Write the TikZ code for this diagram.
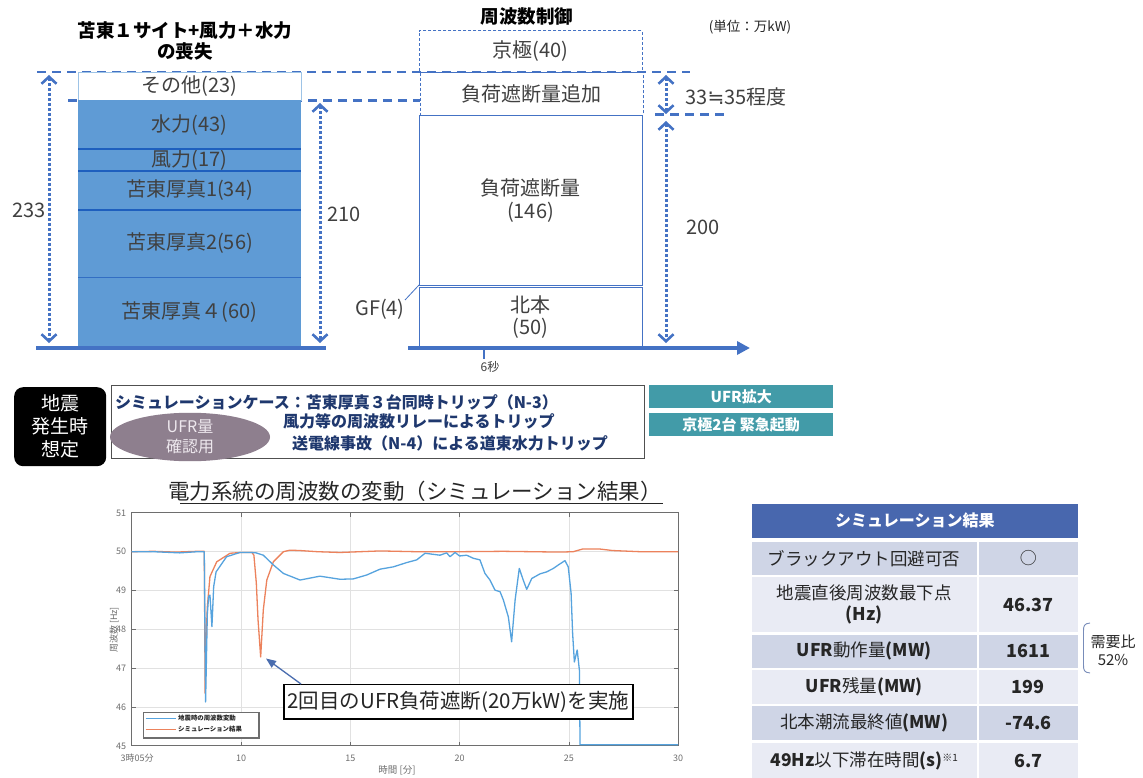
\documentclass[tikz,border=0pt]{standalone}
\usepackage{fontspec}
\setmainfont{Noto Sans CJK JP}
\newfontfamily\symfont{DejaVu Sans}
\usetikzlibrary{arrows.meta,shapes.geometric}
\definecolor{dblue}{RGB}{68,114,196}
\definecolor{stackblue}{RGB}{95,155,213}
\definecolor{divblue}{RGB}{30,95,190}
\definecolor{div2}{RGB}{50,110,195}
\definecolor{lightb}{RGB}{157,195,230}
\definecolor{txt}{RGB}{64,64,64}
\definecolor{dark}{RGB}{38,38,38}
\definecolor{boxgray}{RGB}{80,80,80}
\definecolor{navy}{RGB}{31,56,110}
\definecolor{tealbox}{RGB}{66,155,168}
\definecolor{ellip}{RGB}{142,127,142}
\definecolor{ellipt}{RGB}{238,232,238}
\definecolor{thead}{RGB}{72,103,174}
\definecolor{rowd}{RGB}{207,213,230}
\definecolor{rowl}{RGB}{233,235,244}
\definecolor{cblue}{RGB}{86,163,222}
\definecolor{corange}{RGB}{236,130,92}
\definecolor{gridc}{RGB}{225,225,225}
\definecolor{framec}{RGB}{110,110,110}
\definecolor{arrc}{RGB}{74,109,175}
\definecolor{brk}{RGB}{120,140,185}
\newcommand{\fsz}[2]{\fontsize{#1}{#2}\selectfont}
\tikzset{
  dashln/.style={draw=dblue, line width=2.3pt, dash pattern=on 9pt off 6pt},
  thindash/.style={draw=dblue, line width=0.9pt, dash pattern=on 3pt off 2pt},
  dotarr/.style={draw=dblue, line width=3pt, dash pattern=on 2.5pt off 2.5pt,
     {Straight Barb[length=7pt,width=15pt,line width=2.6pt]}-{Straight Barb[length=7pt,width=15pt,line width=2.6pt]}},
  cell/.style={rectangle, anchor=north west, inner sep=0pt, outer sep=0pt, minimum width=223pt, fill=stackblue, text=txt, font=\fsz{20}{24}},
  mbox/.style={rectangle, anchor=north west, inner sep=0pt, outer sep=0pt, minimum width=223pt, text=txt, font=\fsz{20}{22}, align=center},
  lbl/.style={text=txt, font=\fsz{20}{24}, inner sep=0pt},
  navyt/.style={text=navy, font=\bfseries\fsz{16}{19}, anchor=west, inner sep=0pt},
  tealb/.style={rectangle, fill=tealbox, minimum width=184pt, minimum height=23pt, anchor=north west, inner sep=0pt, text=white, font=\bfseries\fsz{15}{18}},
  tl/.style={rectangle, anchor=north west, inner sep=0pt, minimum width=224.6pt, text=dark, font=\fsz{17.5}{21}, align=center},
  tv/.style={rectangle, anchor=north west, inner sep=0pt, minimum width=99.2pt, text=dark, font=\bfseries\fsz{18}{21}},
  grid/.style={draw=gridc, line width=0.8pt},
  tick/.style={text=framec, font=\fsz{9}{10}, inner sep=0pt},
}
\begin{document}
\begin{tikzpicture}[x=1pt,y=-1pt]
\useasboundingbox (0,0) rectangle (1143,778);
\fill[white] (0,0) rectangle (1143,778);

% ---------- top-left stack ----------
\node[font=\bfseries\fsz{18.5}{21}, text=black, align=center] (ttl1) at (185,41) {苫東１サイト+風力＋水力\\の喪失};
\draw[dashln] (37,72) -- (690,72);
\draw[dashln] (68,100.5) -- (420,100.5);
\node[cell, fill=white, draw=lightb, line width=0.8pt, minimum height=28.5pt] (sonota) at (78,72) {その他(23)};
\node[cell, minimum height=48.5pt] (sui) at (78,100.5) {水力(43)};
\node[cell, minimum height=22pt] (fu) at (78,149) {風力(17)};
\node[cell, minimum height=39pt] (t1) at (78,171) {苫東厚真1(34)};
\node[cell, minimum height=67pt] (t2) at (78,210) {苫東厚真2(56)};
\node[cell, minimum height=69.5pt] (t4) at (78,277) {苫東厚真４(60)};
\draw[divblue, line width=2pt] (sui.south west) -- (sui.south east);
\draw[divblue, line width=2pt] (fu.south west) -- (fu.south east);
\draw[divblue, line width=2pt] (t1.south west) -- (t1.south east);
\draw[div2, line width=1pt] (t2.south west) -- (t2.south east);
\draw[dblue, line width=4pt] (36,347.5) -- (326,347.5);
\coordinate (a233t) at (49,75);
\coordinate (a233b) at (49,343);
\draw[dotarr] (a233t) -- (a233b);
\node[lbl] (n233) at (29,210) {233};
\coordinate (a210t) at (320,103);
\coordinate (a210b) at (320,343);
\draw[dotarr] (a210t) -- (a210b);
\node[lbl] (n210) at (344,214) {210};

% ---------- middle column ----------
\node[font=\bfseries\fsz{18.5}{21}, text=black] (ttl2) at (527,17) {周波数制御};
\node[font=\fsz{13.5}{16}, text=dark] (unit) at (750,27) {(単位：万kW)};
\node[mbox, thindash, minimum height=41.3pt] (kyo) at (419,30.7) {京極(40)};
\node[mbox, thindash, minimum height=43.3pt] (add) at (420,72) {負荷遮断量追加};
\node[mbox, draw=dblue, line width=1pt, minimum height=169.7pt] (shed) at (419,115.3) {負荷遮断量\\[1pt](146)};
\node[mbox, draw=dblue, line width=1pt, minimum height=59.5pt] (hok) at (419,287.5) {北本\\(50)};
\draw[dashln] (655,114.5) -- (725,114.5);
\node[lbl] (gf) at (380,309) {GF(4)};
\coordinate (gfend) at (405,300);
\draw[dblue, line width=0.8pt] (gfend) -- (shed.south west);
\coordinate (axs) at (408,348);
\coordinate (axe) at (750,348);
\draw[dblue, line width=4pt, -{Triangle[length=13pt,width=13pt]}] (axs) -- (axe);
\coordinate (tk) at (484,348);
\coordinate (tkb) at (484,359);
\draw[dblue, line width=1.5pt] (tk) -- (tkb);
\node[text=txt, font=\fsz{12}{14}, inner sep=0pt] (six) at (490,367) {6秒};
\coordinate (u1) at (666,75);
\coordinate (u2) at (666,114);
\coordinate (u3) at (666,121);
\coordinate (u4) at (666,343);
\draw[dotarr] (u1) -- (u2);
\draw[dotarr] (u3) -- (u4);
\node[lbl] (n33) at (736,97) {33{\symfont ≒}35程度};
\node[lbl] (n200) at (703,227) {200};

% ---------- scenario row ----------
\node[rectangle, rounded corners=9pt, fill=black, text=white, minimum width=92pt, minimum height=79pt, anchor=north west, inner sep=0pt, align=center, font=\fsz{19}{23}] (quake) at (14,387) {地震\\発生時\\想定};
\node[rectangle, draw=boxgray, line width=1.2pt, minimum width=533pt, minimum height=73pt, anchor=north west, inner sep=0pt] (case) at (111,385) {};
\node[ellipse, fill=ellip, minimum width=160pt, minimum height=44pt, inner sep=0pt, align=center, text=ellipt, font=\fsz{16}{20}] (ufr) at (190,437) {UFR量\\確認用};
\node[navyt] (l1) at (115,402) {シミュレーションケース：苫東厚真３台同時トリップ（N-3）};
\node[navyt] (l2) at (283,421) {風力等の周波数リレーによるトリップ};
\node[navyt] (l3) at (292,443) {送電線事故（N-4）による道東水力トリップ};
\node[tealb] (ufrx) at (649,385) {UFR拡大};
\node[tealb] (kyo2) at (649,413) {京極2台 緊急起動};

% ---------- chart ----------
\node[text=dark, font=\fsz{21.5}{24}, inner sep=0pt] (ctitle) at (415,491) {電力系統の周波数の変動（シミュレーション結果）};
\draw[dark, line width=1.5pt] (180,503.5) -- (663,503.5);
\begin{scope}[shift={(22.4,2493.2)}, x=21.86pt, y=38.83pt]
  \foreach \t in {10,15,20,25} \draw[grid] (\t,45) -- (\t,51);
  \foreach \f in {46,47,48,49,50} \draw[grid] (5,\f) -- (30,\f);
  \draw[framec, line width=1.1pt] (5,45) rectangle (30,51);
  \foreach \t in {10,15,20,25} {\draw[framec, line width=0.8pt] (\t,45) -- ++(0,0.1); \draw[framec, line width=0.8pt] (\t,51) -- ++(0,-0.1);}
  \foreach \f in {46,47,48,49,50} {\draw[framec, line width=0.8pt] (5,\f) -- ++(0.18,0); \draw[framec, line width=0.8pt] (30,\f) -- ++(-0.18,0);}
  \foreach \f in {45,46,47,48,49,50,51} \node[tick, anchor=east] (yt\f) at (4.75,\f) {\f};
  \node[tick] (xt5) at (5.25,44.68) {3時05分};
  \foreach \t in {10,15,20,25,30} \node[tick] (xt\t) at (\t,44.68) {\t};
  \draw[corange, line width=1.3pt, line join=round] plot coordinates {
    (5,50.0) (6,50.01) (7,49.99) (8,50.01) (8.32,50.01) (8.36,46.35) (8.42,48.0) (8.46,48.58) (8.58,49.36)
    (8.89,49.74) (9.5,49.96) (10.0,49.98) (10.5,49.98) (10.59,49.91) (10.7,49.2) (10.78,48.24) (10.9,47.29)
    (11.02,48.5) (11.18,49.27) (11.48,49.74) (11.94,50.0) (12.24,50.04) (12.7,50.03) (13.5,50.0) (14.53,49.98)
    (16.36,50.02) (18,50.0) (20,50.0) (22,50.01) (24.6,49.99) (25.2,50.0) (25.63,50.07) (26.4,50.07)
    (27.0,50.03) (28.26,50.0) (30,50.0)};
  \draw[cblue, line width=1.3pt, line join=round] plot coordinates {
    (5,50.0) (6,50.0) (7.2,49.97) (8.0,50.0) (8.32,50.0) (8.38,46.13) (8.46,48.4) (8.52,48.85) (8.58,48.88) (8.67,48.07)
    (8.75,49.1) (8.86,49.48) (9.34,49.87) (9.95,49.98) (10.45,49.98) (10.69,49.97) (11.02,49.91) (11.48,49.66)
    (11.94,49.44) (12.39,49.34) (12.7,49.27) (13.61,49.37) (14.53,49.29) (15.14,49.30) (15.75,49.40) (16.36,49.55)
    (16.97,49.61) (17.58,49.72) (18.04,49.79) (18.42,49.96) (19.10,49.91) (19.41,49.97) (19.56,49.87) (19.79,49.98)
    (20.0,49.89) (20.32,49.91) (20.63,49.83) (20.93,49.79) (21.16,49.44) (21.39,49.27) (21.62,49.01) (21.85,48.97)
    (22.0,48.76) (22.23,48.32) (22.38,47.68) (22.54,48.76) (22.73,49.57) (22.91,49.27) (23.07,49.03) (23.30,49.31)
    (23.68,49.43) (23.98,49.48) (24.29,49.57) (24.52,49.66) (24.82,49.77) (24.97,49.61) (25.10,48.93) (25.17,47.90)
    (25.25,47.16) (25.38,47.47) (25.48,46.95) (25.51,45.03) (30,45.03)};
\end{scope}
\node[text=framec, font=\fsz{9}{10}, rotate=90, inner sep=0pt] (ylab) at (114,630) {周波数 [Hz]};
\node[text=framec, font=\fsz{9.5}{11}, inner sep=0pt] (xlab) at (397,770) {時間 [分]};
\node[rectangle, draw=framec, line width=1.2pt, fill=white, minimum width=115.6pt, minimum height=25.6pt, anchor=north west, inner sep=0pt] (leg) at (142.7,711.7) {};
\coordinate (lb1) at (145.5,718.5);
\coordinate (lb2) at (176,718.5);
\coordinate (lo1) at (145.5,729.5);
\coordinate (lo2) at (176,729.5);
\draw[cblue, line width=1.3pt] (lb1) -- (lb2);
\draw[corange, line width=1.3pt] (lo1) -- (lo2);
\node[anchor=west, inner sep=0pt, text=dark, font=\bfseries\fsz{6.4}{7}] (leg1) at (178,718.5) {地震時の周波数変動};
\node[anchor=west, inner sep=0pt, text=dark, font=\bfseries\fsz{6.4}{7}] (leg2) at (178,729.5) {シミュレーション結果};
\node[rectangle, draw=black, line width=1.2pt, fill=white, minimum width=349pt, minimum height=34.3pt, anchor=north west, inner sep=0pt, text=dark, font=\fsz{20.5}{23}] (annot) at (283.3,684) {2回目のUFR負荷遮断(20万kW)を実施};
\coordinate (atip) at (266,658.5);
\coordinate (abase) at (301,684);
\draw[arrc, line width=1.3pt, -{Triangle[length=10pt,width=8pt]}] (abase) -- (atip);

% ---------- table ----------
\node[rectangle, fill=thead, minimum width=326pt, minimum height=34.4pt, anchor=north west, inner sep=0pt, text=white, font=\bfseries\fsz{16}{19}] (th) at (751.7,503.3) {シミュレーション結果};
\node[tl, fill=rowd, minimum height=33pt] (r1l) at (751.7,541.7) {ブラックアウト回避可否};
\node[tv, fill=rowd, minimum height=33pt, font=\fsz{17}{20}] (r1v) at (978.5,541.7) {○};
\node[tl, fill=rowl, minimum height=55pt] (r2l) at (751.7,577) {地震直後周波数最下点\\\textbf{(Hz)}};
\node[tv, fill=rowl, minimum height=55pt] (r2v) at (978.5,577) {46.37};
\node[tl, fill=rowd, minimum height=33.5pt] (r3l) at (751.7,634.3) {\textbf{UFR}動作量\textbf{(MW)}};
\node[tv, fill=rowd, minimum height=33.5pt] (r3v) at (978.5,634.3) {1611};
\node[tl, fill=rowl, minimum height=33.5pt] (r4l) at (751.7,670.2) {\textbf{UFR}残量\textbf{(MW)}};
\node[tv, fill=rowl, minimum height=33.5pt] (r4v) at (978.5,670.2) {199};
\node[tl, fill=rowd, minimum height=34pt] (r5l) at (751.7,706) {北本潮流最終値\textbf{(MW)}};
\node[tv, fill=rowd, minimum height=34pt] (r5v) at (978.5,706) {-74.6};
\node[tl, fill=rowl, minimum height=36pt] (r6l) at (751.7,742.3) {\textbf{49Hz}以下滞在時間\textbf{(s)}\raisebox{5pt}{\fsz{10}{11}※1}};
\node[tv, fill=rowl, minimum height=36pt] (r6v) at (978.5,742.3) {6.7};
\draw[brk, line width=0.9pt] (1090,623) .. controls (1084,623.5) and (1083.5,626) .. (1083.5,631) -- (1083.5,665) .. controls (1083.5,670) and (1084,672.5) .. (1090,673);
\node[text=dark, font=\fsz{15}{18}, align=center, inner sep=0pt] (ratio) at (1113,650) {需要比\\52\%};
\end{tikzpicture}
\end{document}
